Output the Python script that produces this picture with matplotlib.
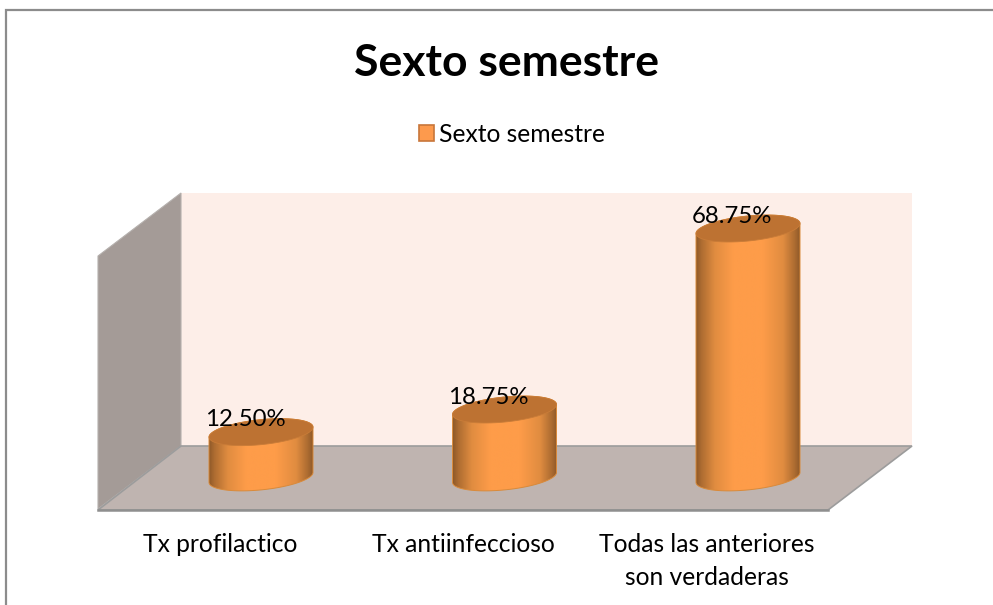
# Sexto semestre - cylinder chart drawn by hand on a flat axes

import numpy as np
import matplotlib
matplotlib.use('Agg')
import matplotlib.pyplot as plt
from matplotlib.colors import LinearSegmentedColormap
from matplotlib.patches import Patch, Polygon
from matplotlib.transforms import Affine2D

categories = ['Tx profilactico', 'Tx antiinfeccioso', 'Todas las anteriores\nson verdaderas']
values = [12.5, 18.75, 68.75]
value_labels = ['12.50%', '18.75%', '68.75%']
series_name = 'Sexto semestre'

W, H = 993, 605
PX_X = 243.5  # pixels per category
PX_Y = 3.62   # pixels per percent
X0, Y0 = 261, 477.4  # pixel of first category at value 0

plt.rcParams['font.family'] = ['Lato', 'DejaVu Sans']

fig = plt.figure(figsize=(W / 100, H / 100), dpi=100)
ax = fig.add_axes([0, 0, 1, 1])
xlim = (-X0 / PX_X, (W - X0) / PX_X)
ylim = ((Y0 - H) / PX_Y, Y0 / PX_Y)
ax.axis('off')

# pixel coordinates of the picture, for the frame and the 3d box only
px = Affine2D().scale(1 / W, -1 / H).translate(0, 1) + ax.transAxes

edge = '#9c9c9c'
ax.add_patch(Polygon([(181, 193), (912, 193), (912, 446), (181, 446)], transform=px,
                     fc='#fdeee8', ec='none', zorder=1))
ax.add_patch(Polygon([(98, 256), (181, 193), (181, 446), (98, 509)], transform=px,
                     fc='#a49b97', ec='#b5b0ad', lw=0.8, zorder=1))
ax.add_patch(Polygon([(98, 510), (181, 446), (912, 446), (828, 510)], transform=px,
                     fc='#bfb4b0', ec=edge, lw=1.2, zorder=1))
ax.plot([98, 828], [510, 510], color='#8f8f8f', lw=1.8, transform=px, zorder=1)
ax.plot([5.5, 5.5, W], [H, 10, 10], color='#8c8c8c', lw=1.6, transform=px, zorder=1,
        solid_joinstyle='miter')

shade = LinearSegmentedColormap.from_list('shade', [
    (0.0, '#8f5a29'), (0.05, '#ad6c31'), (0.18, '#e08c40'), (0.36, '#fe9c49'),
    (0.64, '#fe9c49'), (0.84, '#e08c40'), (0.95, '#ad6c31'), (1.0, '#8f5a29')])
grad = np.linspace(0, 1, 256).reshape(1, -1)

# sheared ellipse, half sizes in pixels
t = np.linspace(0, 2 * np.pi, 181)
ex = 52 * np.cos(t) / PX_X
ey = (5 * np.cos(t) + 12.5 * np.sin(t)) / PX_Y
lower = t >= np.pi
upper = t <= np.pi

for i, v in enumerate(values):
    # body: lower half of the base left to right, then back along the top
    bx = np.r_[i + ex[lower], i + ex[upper]]
    by = np.r_[ey[lower], v + ey[upper]]
    body = Polygon(np.c_[bx, by], transform=ax.transData, fc='none', ec='#d98a3a',
                   lw=0.7, zorder=3)
    ax.add_patch(body)
    im = ax.imshow(grad, cmap=shade, aspect='auto', zorder=2, vmin=0, vmax=1,
                   extent=(i - 52 / PX_X, i + 52 / PX_X, -20 / PX_Y, v + 20 / PX_Y))
    im.set_clip_path(body)
    ax.fill(i + ex, v + ey, fc='#bd7232', ec='#c97c38', lw=0.6, zorder=4)
    ax.annotate(value_labels[i], xy=(i, v), xytext=(-16 * 0.72, 12.5 * 0.72),
                textcoords='offset points', ha='center', va='center',
                fontsize=17.3, color='black', zorder=6)
    ax.annotate(categories[i], xy=(i, 0), xytext=(-41 * 0.72, -55.5 * 0.72),
                textcoords='offset points', ha='center', va='top',
                fontsize=17.7, color='black', linespacing=1.55, zorder=6)

ax.set_xlim(xlim)
ax.set_ylim(ylim)

ax.text(506 / W, 1 - 63 / H, series_name, transform=ax.transAxes, ha='center', va='center',
        fontsize=32, fontweight='bold', color='black')
handle = Patch(fc='#fd9a4d', ec='#c8763a', lw=1.2)
fig.legend([handle], [series_name], loc='center', bbox_to_anchor=(512 / W, 1 - 134 / H),
           frameon=False, fontsize=17.7, handlelength=0.62, handleheight=0.62,
           handletextpad=0.19, borderpad=0)

fig.savefig('out.png', dpi=100)
